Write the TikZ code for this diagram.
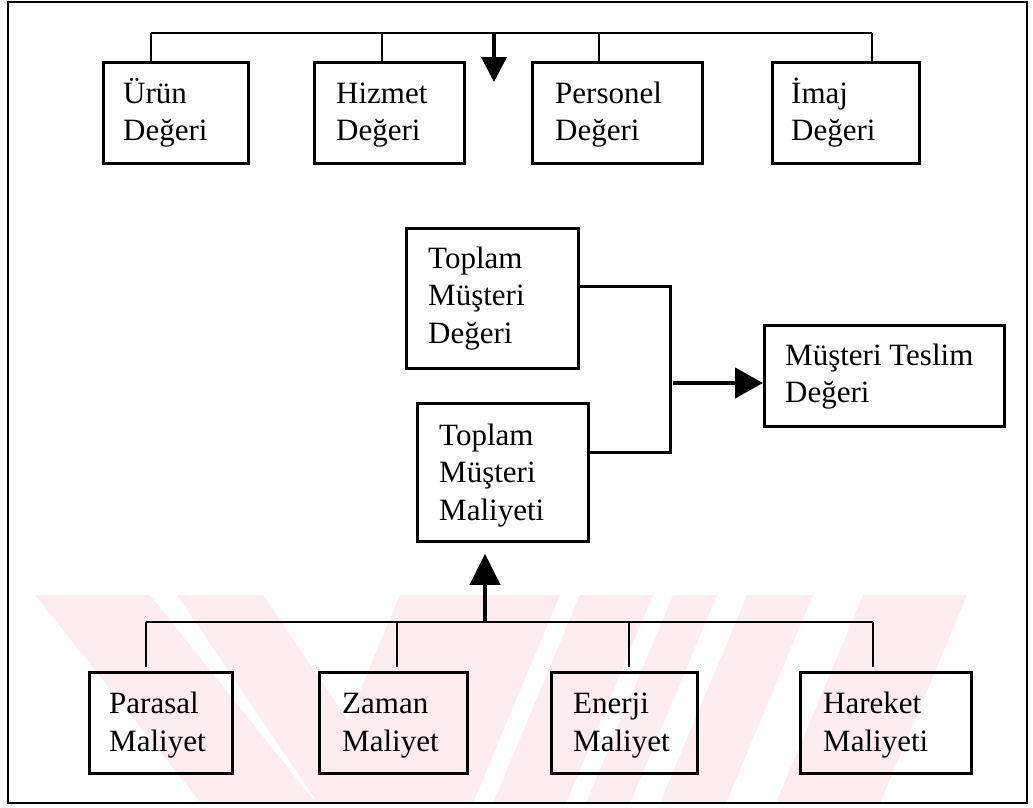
\documentclass[tikz,border=0pt]{standalone}
\usepackage{fontspec}
\setmainfont{Liberation Serif}
\usetikzlibrary{arrows.meta,calc}
\definecolor{wmark}{RGB}{253,237,240}
\begin{document}
\begin{tikzpicture}[x=1pt,y=-1pt,
  box/.style={draw,line width=2.8pt,rectangle,inner sep=0pt,anchor=north west},
  txt/.style={font=\fontsize{31}{37.5}\selectfont,align=left,anchor=base west,inner sep=0pt},
  bus/.style={line width=2.8pt},
  drop/.style={line width=1.5pt},
  link/.style={line width=3pt},
  arrowdown/.style={line width=4pt,-{Triangle[length=25pt,width=25pt]}},
  arrowright/.style={line width=4.5pt,-{Triangle[length=28pt,width=30pt]}},
  arrowup/.style={line width=4pt,-{Triangle[length=31pt,width=30pt]}},
]
\useasboundingbox (0,0) rectangle (1033,807);

% faint diagonal background stripes in the lower part
\begin{scope}
  \clip (9,595) rectangle (1026,802);
  \fill[wmark] (35,595) -- (150,595) -- (316,803) -- (201,803) -- cycle;
  \fill[wmark] (177,595) -- (263,595) -- (404,803) -- (318,803) -- cycle;
  \fill[wmark] (400,595) -- (560,595) -- (473,803) -- (313,803) -- cycle;
  \fill[wmark] (580,595) -- (653,595) -- (566,803) -- (493,803) -- cycle;
  \fill[wmark] (673,595) -- (717,595) -- (630,803) -- (586,803) -- cycle;
  \fill[wmark] (747,595) -- (813,595) -- (726,803) -- (660,803) -- cycle;
  \fill[wmark] (863,595) -- (967,595) -- (880,803) -- (776,803) -- cycle;
\end{scope}

% outer frame
\draw[line width=2.8pt] (8,2) rectangle (1027,803);

% value components (label anchors sit on the last text line)
\node[box,minimum width=145pt,minimum height=101pt] (urun) at (102,61) {};
\node[box,minimum width=150pt,minimum height=101pt] (hizmet) at (313,61) {};
\node[box,minimum width=170pt,minimum height=101pt] (personel) at (531,61) {};
\node[box,minimum width=147pt,minimum height=101pt] (imaj) at (771,61) {};
\node[txt] (urunT) at ($(urun.north west)+(21,79.5)$) {Ürün\\Değeri};
\node[txt] (hizmetT) at ($(hizmet.north west)+(23,79.5)$) {Hizmet\\Değeri};
\node[txt] (personelT) at ($(personel.north west)+(24,79.5)$) {Personel\\Değeri};
\node[txt] (imajT) at ($(imaj.north west)+(20,79.5)$) {İmaj\\Değeri};

% totals and delivered value
\node[box,minimum width=172pt,minimum height=140pt] (tmd) at (405,227) {};
\node[box,minimum width=171pt,minimum height=138pt] (tmm) at (416,402) {};
\node[box,minimum width=240pt,minimum height=101pt] (mtd) at (763,324) {};
\node[txt] (tmdT) at ($(tmd.north west)+(23,116)$) {Toplam\\Müşteri\\Değeri};
\node[txt] (tmmT) at ($(tmm.north west)+(23,118)$) {Toplam\\Müşteri\\Maliyeti};
\node[txt] (mtdT) at ($(mtd.north west)+(22,78.5)$) {Müşteri Teslim\\Değeri};

% cost components
\node[box,minimum width=143pt,minimum height=101pt] (parasal) at (88,671) {};
\node[box,minimum width=148pt,minimum height=101pt] (zaman) at (318,671) {};
\node[box,minimum width=146pt,minimum height=101pt] (enerji) at (550,671) {};
\node[box,minimum width=171pt,minimum height=101pt] (hareket) at (799,671) {};
\node[txt] (parasalT) at ($(parasal.north west)+(21,80)$) {Parasal\\Maliyet};
\node[txt] (zamanT) at ($(zaman.north west)+(24,80)$) {Zaman\\Maliyet};
\node[txt] (enerjiT) at ($(enerji.north west)+(23,80)$) {Enerji\\Maliyet};
\node[txt] (hareketT) at ($(hareket.north west)+(24,80)$) {Hareket\\Maliyeti};

% upper bus
\coordinate (ta) at (151,33);
\coordinate (tb) at (382,33);
\coordinate (tc) at (599,33);
\coordinate (td) at (872,33);
\coordinate (tarr) at (494,33);
\coordinate (tarrEnd) at (494,82);
\draw[bus] (ta) -- (td);
\draw[drop] (ta) -- (ta |- urun.north);
\draw[drop] (tb) -- (tb |- hizmet.north);
\draw[drop] (tc) -- (tc |- personel.north);
\draw[drop] (td) -- (td |- imaj.north);
\draw[arrowdown] (tarr) -- (tarrEnd);

% totals joined into delivered value
\coordinate (m1) at (670,286);
\coordinate (m2) at (670,452);
\coordinate (m3) at (673,383);
\draw[link] (tmd.east |- m1) -- (m1) -- (m2) -- (tmm.east |- m2);
\draw[arrowright] (m3) -- (mtd.west |- m3);

% lower bus
\coordinate (ba) at (146,622);
\coordinate (bb) at (397,622);
\coordinate (bc) at (629,622);
\coordinate (bd) at (873,622);
\coordinate (barr) at (485,622);
\draw[bus] (ba) -- (bd);
\draw[drop,shorten >=4pt] (ba) -- (ba |- parasal.north);
\draw[drop,shorten >=4pt] (bb) -- (bb |- zaman.north);
\draw[drop,shorten >=4pt] (bc) -- (bc |- enerji.north);
\draw[drop,shorten >=4pt] (bd) -- (bd |- hareket.north);
\draw[arrowup,shorten >=11pt] (barr) -- (barr |- tmm.south);
\end{tikzpicture}
\end{document}
